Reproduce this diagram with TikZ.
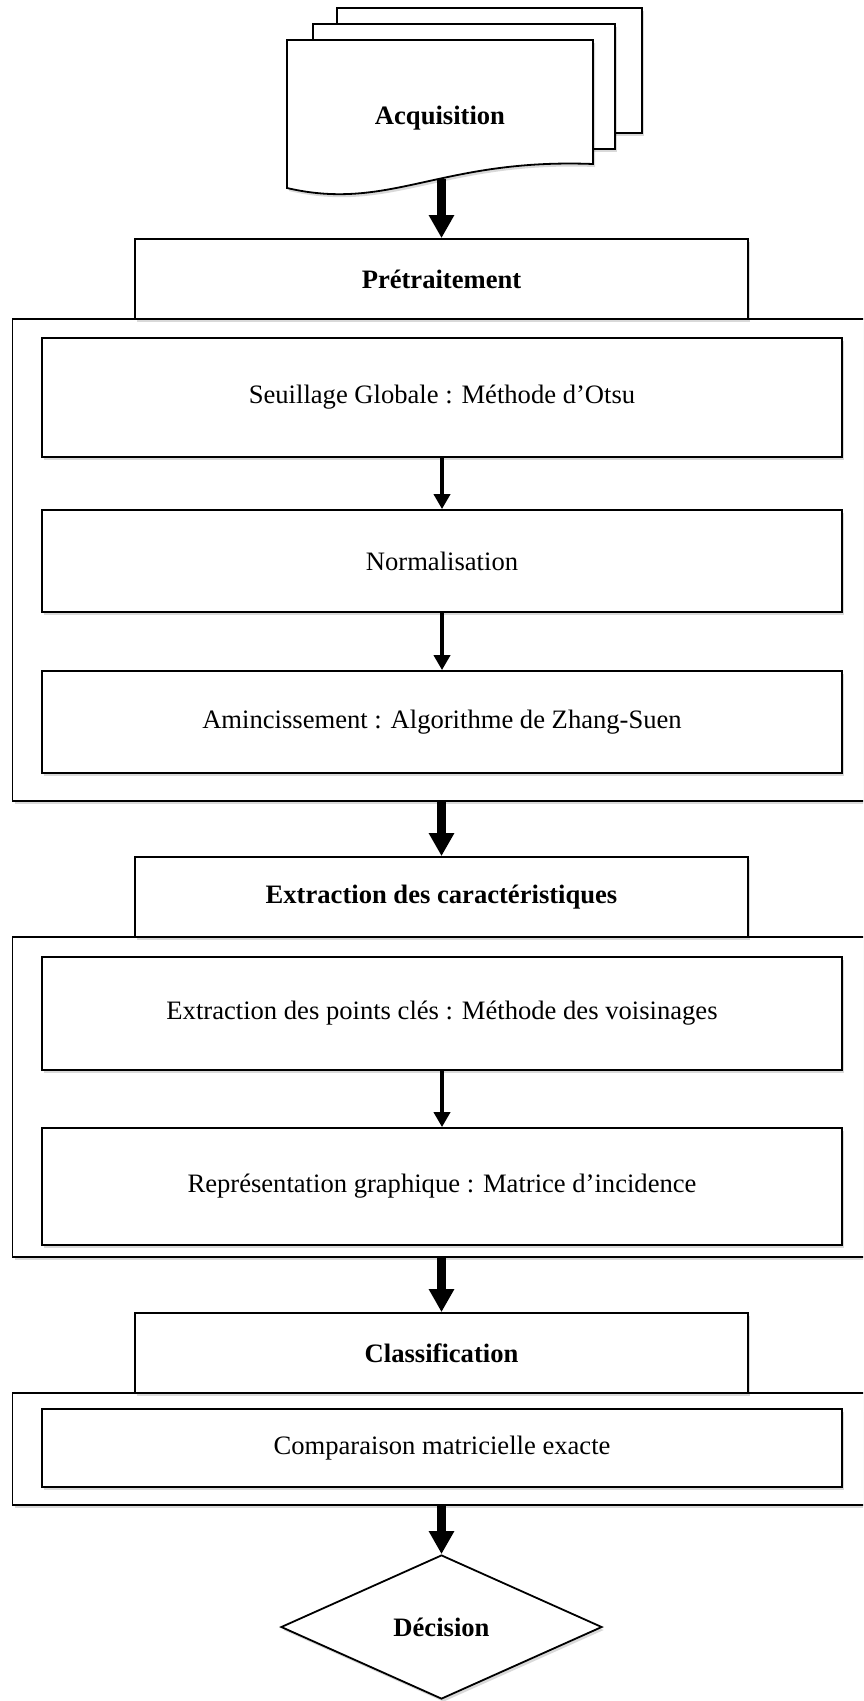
\documentclass[tikz,border=0pt]{standalone}
\usepackage{fontspec}
\setmainfont{Liberation Serif}
\usetikzlibrary{arrows.meta,shapes.geometric,shadows}
\begin{document}
\begin{tikzpicture}[x=1pt,y=-1pt,
  shd/.style={drop shadow={shadow xshift=2pt,shadow yshift=-3pt,opacity=0.15,fill=black}},
  txt/.style={font=\fontsize{26.6}{32}\selectfont},
  btxt/.style={font=\fontsize{26.6}{32}\selectfont\bfseries},
  basebox/.style={draw=black,line width=1.8pt,fill=white,inner sep=0pt,shd,txt},
  hdrbox/.style={basebox,btxt,minimum width=613pt,minimum height=80pt},
  innerbox/.style={basebox,minimum width=800pt},
  grpbox/.style={basebox,minimum width=858pt},
  docpage/.style={draw=black,line width=1.8pt,fill=white,shd},
  thinarr/.style={line width=4.5pt,-{Triangle[width=16pt,length=15pt]}},
  thickarr/.style={line width=9pt,-{Triangle[width=24pt,length=23pt]}}
]
\useasboundingbox (0,0) rectangle (863,1701);
\clip (0,0) rectangle (863,1701);

% Acquisition (multi-document)
\draw[docpage] (337,8) rectangle (642,133);
\draw[docpage] (313,24) rectangle (615,149);
\draw[docpage] (287,40) -- (593,40) -- (593,164) .. controls (440,158) and (390,212) .. (287,188) -- cycle;
\node[btxt] (acq) at (440,118) {Acquisition};
\coordinate (acqbot) at (441.5,179);

% Group 1
\node[grpbox,minimum height=482pt] (g1) at (441.5,560) {};
\node[hdrbox] (pre) at (441.5,279) {Prétraitement};
\node[innerbox,minimum height=119pt] (seu) at (442,397.5) {Seuillage Globale : Méthode d’Otsu};
\node[innerbox,minimum height=102pt] (nor) at (442,561) {Normalisation};
\node[innerbox,minimum height=102pt] (ami) at (442,722) {Amincissement : Algorithme de Zhang-Suen};

% Group 2
\node[grpbox,minimum height=320pt] (g2) at (441.5,1097) {};
\node[hdrbox] (ext) at (441.5,897) {Extraction des caractéristiques};
\node[innerbox,minimum height=113pt] (pts) at (442,1013.5) {Extraction des points clés : Méthode des voisinages};
\node[innerbox,minimum height=117pt] (rep) at (442,1186.5) {Représentation graphique : Matrice d’incidence};

% Group 3
\node[grpbox,minimum height=112pt] (g3) at (441.5,1449) {};
\node[hdrbox] (cla) at (441.5,1353) {Classification};
\node[innerbox,minimum height=78pt] (cmp) at (442,1448) {Comparaison matricielle exacte};

% Decision
\node[draw=black,line width=1.8pt,fill=white,diamond,aspect=2.23,minimum width=321pt,minimum height=144pt,inner sep=0pt,shd,btxt] (dec) at (441.5,1627) {Décision};

% Arrows
\draw[thickarr] (acqbot) -- (pre.north);
\draw[thinarr] (seu.south) -- (nor.north);
\draw[thinarr] (nor.south) -- (ami.north);
\draw[thickarr] (g1.south) -- (ext.north);
\draw[thinarr] (pts.south) -- (rep.north);
\draw[thickarr] (g2.south) -- (cla.north);
\draw[thickarr] (g3.south) -- (dec.north);
\end{tikzpicture}
\end{document}
